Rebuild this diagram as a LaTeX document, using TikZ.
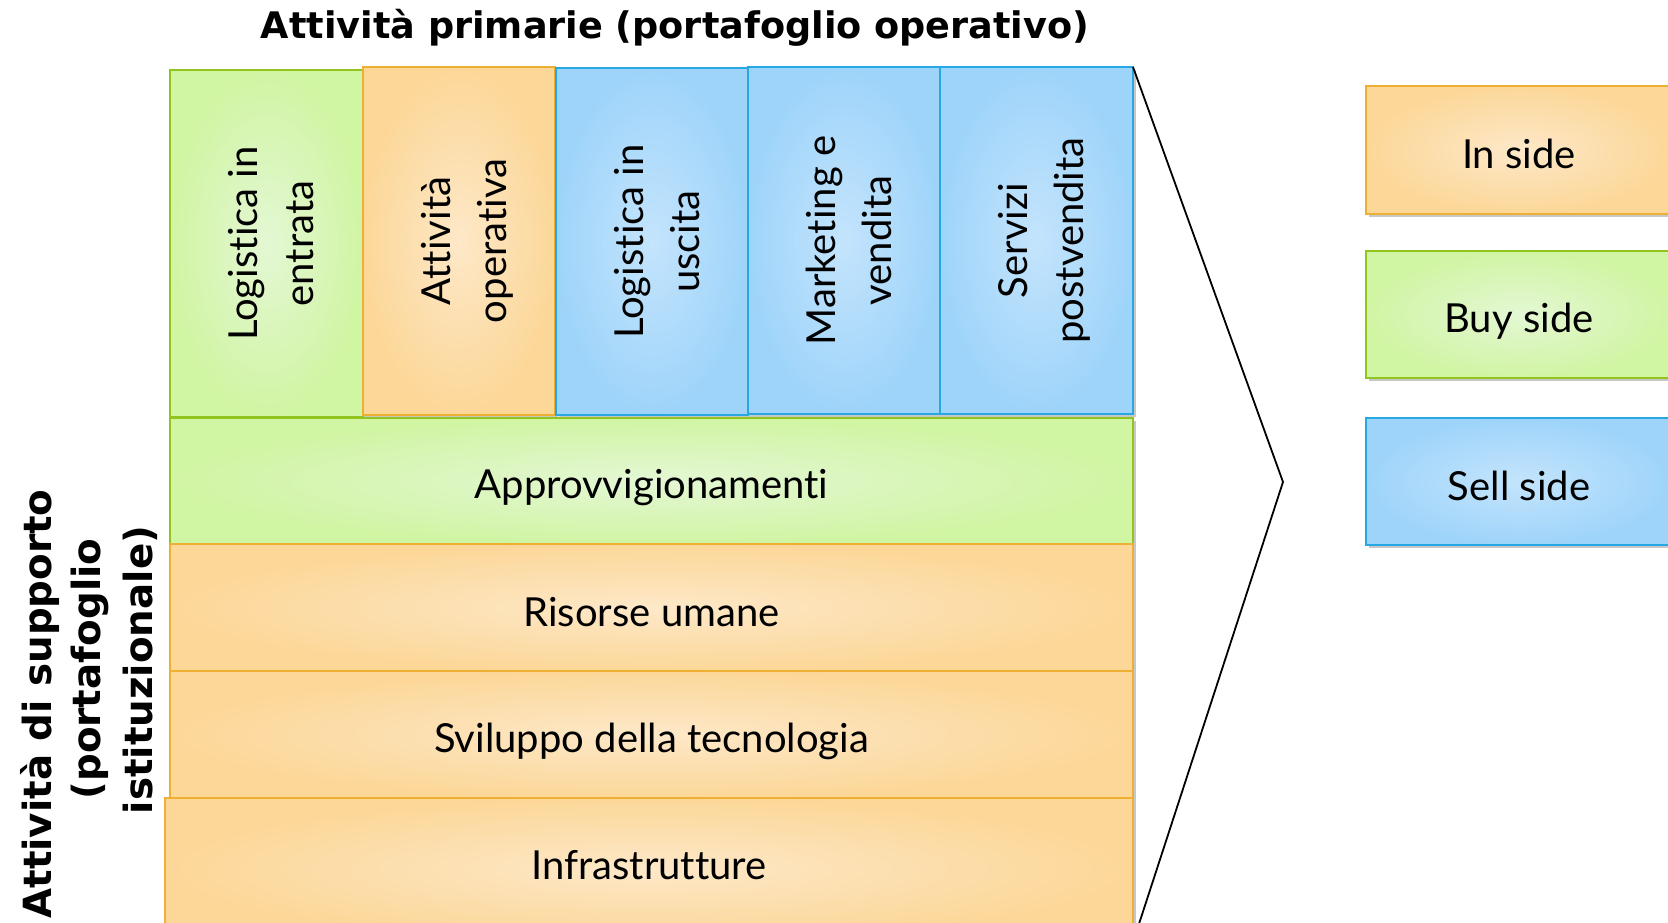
\documentclass[tikz,border=0pt]{standalone}
\usepackage{fontspec}
\usepackage{graphicx}
\setmainfont{Lato}[Ligatures={NoCommon,NoContextual}]
\newfontfamily\tfont{DejaVu Sans}
\usetikzlibrary{shadows}
\definecolor{gO}{RGB}{208,245,163}
\definecolor{gI}{RGB}{228,247,212}
\definecolor{gB}{RGB}{146,196,30}
\definecolor{oO}{RGB}{252,215,152}
\definecolor{oI}{RGB}{253,232,200}
\definecolor{oB}{RGB}{238,176,50}
\definecolor{bO}{RGB}{158,212,250}
\definecolor{bI}{RGB}{196,228,252}
\definecolor{bB}{RGB}{40,168,226}
\newcommand{\vtext}[1]{\rotatebox{90}{\raisebox{-8pt}[\height][\depth]{\begin{tabular}{@{}c@{}}#1\end{tabular}}}}
\newcommand{\lowt}[2][-6.5pt]{\raisebox{#1}[\height][\depth]{#2}}
\begin{document}
\begin{tikzpicture}[x=1pt,y=-1pt,
  blk/.style={line width=2pt, inner sep=0pt, outer sep=0pt, anchor=north west,
    font=\fontsize{40}{56}\selectfont, align=center,
    drop shadow={shadow xshift=3pt, shadow yshift=-3pt, opacity=0.22, fill=black}},
  gbox/.style={blk, draw=gB, inner color=gI, outer color=gO},
  obox/.style={blk, draw=oB, inner color=oI, outer color=oO},
  bbox/.style={blk, draw=bB, inner color=bI, outer color=bO},
  ttl/.style={font=\tfont\bfseries\fontsize{36.6}{46}\selectfont, inner sep=0pt},
  sttl/.style={font=\tfont\bfseries\fontsize{38.8}{46}\selectfont, inner sep=0pt, rotate=90, anchor=base},
  chev/.style={draw=black, line width=1.8pt}]
\useasboundingbox (0,0) rectangle (1668,923);
% primary activities
\node[gbox, minimum width=193pt, minimum height=347pt] (n1) at (170,70) {\vtext{Logistica in\\entrata}};
\node[obox, minimum width=192pt, minimum height=348pt] (n2) at (363,67) {\vtext{Attività\\operativa}};
\node[bbox, minimum width=192pt, minimum height=347pt] (n3) at (556,68) {\vtext{Logistica in\\uscita}};
\node[bbox, minimum width=192pt, minimum height=347pt] (n4) at (748,67) {\vtext{Marketing e\\vendita}};
\node[bbox, minimum width=193pt, minimum height=347pt] (n5) at (940,67) {\vtext{Servizi\\postvendita}};
% support activities
\node[gbox, minimum width=963pt, minimum height=126pt] (h1) at (170,418) {\lowt[-7pt]{Approvvigionamenti}};
\node[obox, minimum width=963pt, minimum height=127pt] (h2) at (170,544) {\lowt[-5pt]{Risorse umane}};
\node[obox, minimum width=963pt, minimum height=127pt] (h3) at (170,671) {\lowt[-7pt]{Sviluppo della tecnologia}};
\node[obox, minimum width=968pt, minimum height=142pt] (h4) at (165,798) {\lowt[4pt]{Infrastrutture}};
% legend
\node[obox, minimum width=306pt, minimum height=128pt] (r1) at (1366,86) {\lowt[-3.5pt]{In side}};
\node[gbox, minimum width=306pt, minimum height=127pt] (r2) at (1366,251) {\lowt[-7pt]{Buy side}};
\node[bbox, minimum width=306pt, minimum height=127pt] (r3) at (1366,418) {\lowt[-4pt]{Sell side}};
% chevron
\coordinate (apex) at (1283,482);
\coordinate (cend) at (1137,930);
\draw[chev] (n5.north east) -- (apex) -- (cend);
% titles
\node[ttl] (t1) at (675,28) {Attività primarie (portafoglio operativo)};
\node[sttl] (l1) at (51,704) {Attività di supporto};
\node[sttl] (l2) at (100,669) {(portafoglio};
\node[sttl] (l3) at (152,670) {istituzionale)};
\end{tikzpicture}
\end{document}
